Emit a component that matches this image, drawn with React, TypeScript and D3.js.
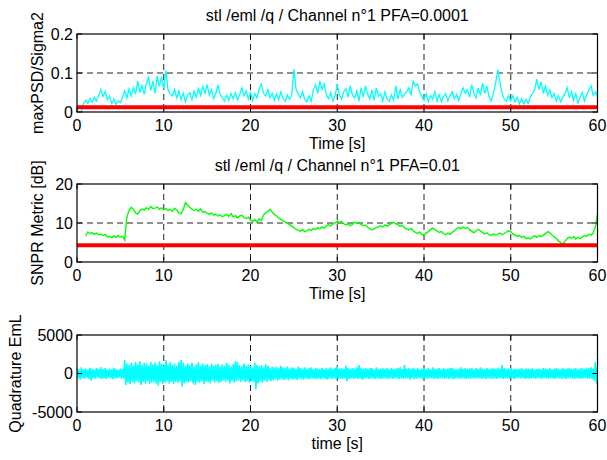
import React from 'react';
import * as d3 from 'd3';

// ---------- data ----------
const timeTicks = [0, 10, 20, 30, 40, 50, 60];
const psdTicks = [0, 0.1, 0.2];
const snprTicks = [0, 10, 20];
const quadTicks = [-5000, 0, 5000];

const titles = ['stl /eml /q / Channel n°1 PFA=0.0001', 'stl /eml /q / Channel n°1 PFA=0.01', ''];
const yLabels = ['maxPSD/Sigma2', 'SNPR Metric [dB]', 'Quadrature EmL'];
const xLabels = ['Time [s]', 'Time [s]', 'time [s]'];

const psdThreshold = 0.012;
const snprThreshold = 4.3;
const sampleStep = 0.25; // seconds between samples
const psdStart = 0;
const snprStart = 1;
const quadStart = 0;

const maxPSD = [
  0, 0, 0, 0.022,
  0.03, 0.022, 0.035, 0.025,
  0.038, 0.028, 0.042, 0.058,
  0.04, 0.052, 0.032, 0.041,
  0.022, 0.033, 0.019, 0.029,
  0.024, 0.038, 0.054, 0.036,
  0.059, 0.041, 0.063, 0.046,
  0.079, 0.05, 0.068, 0.045,
  0.074, 0.088, 0.055, 0.079,
  0.048, 0.092, 0.066, 0.09,
  0.06, 0.107, 0.056, 0.047,
  0.041, 0.058, 0.036, 0.054,
  0.032, 0.048, 0.026, 0.043,
  0.049, 0.031, 0.054, 0.038,
  0.06, 0.042, 0.065, 0.048,
  0.07, 0.043, 0.057, 0.034,
  0.047, 0.07, 0.045, 0.036,
  0.028, 0.043, 0.03, 0.047,
  0.034, 0.049, 0.031, 0.044,
  0.062, 0.042, 0.054, 0.033,
  0.05, 0.029, 0.047, 0.036,
  0.06, 0.072, 0.048, 0.041,
  0.057, 0.036, 0.048, 0.03,
  0.046, 0.032, 0.052, 0.035,
  0.028, 0.044, 0.033, 0.042,
  0.11, 0.058, 0.047, 0.036,
  0.052, 0.033, 0.026, 0.042,
  0.028, 0.057, 0.07, 0.048,
  0.08, 0.058, 0.072, 0.043,
  0.034, 0.05, 0.028, 0.042,
  0.07, 0.043, 0.033, 0.052,
  0.06, 0.038, 0.067, 0.043,
  0.036, 0.054, 0.028, 0.062,
  0.038, 0.067, 0.046, 0.033,
  0.057, 0.03, 0.062, 0.04,
  0.047, 0.028, 0.052, 0.033,
  0.028, 0.044, 0.03, 0.067,
  0.033, 0.057, 0.038, 0.046,
  0.052, 0.062, 0.043, 0.079,
  0.067, 0.072, 0.053, 0.038,
  0.03, 0.047, 0.026, 0.042,
  0.033, 0.052, 0.028, 0.044,
  0.026, 0.04, 0.047, 0.028,
  0.042, 0.052, 0.033, 0.045,
  0.03, 0.047, 0.062, 0.048,
  0.057, 0.038, 0.07, 0.048,
  0.036, 0.062, 0.043, 0.074,
  0.048, 0.067, 0.038, 0.028,
  0.047, 0.072, 0.108, 0.078,
  0.048, 0.033, 0.028, 0.042,
  0.028, 0.042, 0.026, 0.037,
  0.02, 0.034, 0.02, 0.032,
  0.022, 0.038, 0.047, 0.057,
  0.084, 0.058, 0.077, 0.048,
  0.067, 0.043, 0.057, 0.036,
  0.047, 0.028, 0.042, 0.026,
  0.038, 0.047, 0.062, 0.038,
  0.052, 0.03, 0.047, 0.023,
  0.037, 0.05, 0.028, 0.044,
  0.057, 0.067, 0.043, 0.052,
  0.04,
];

const snprMetric = [
  6.6, 7.7, 7.3, 7.5,
  7.1, 7.4, 7.0, 7.2,
  6.8, 7.1, 6.4, 6.6,
  6.2, 6.7, 6.3, 6.8,
  6.4, 6.6, 5.6, 11.5,
  13.2, 14.0, 13.5, 12.6,
  12.3, 13.2, 13.6, 13.3,
  13.9, 13.5, 14.2, 13.7,
  13.8, 14.1, 13.5, 13.9,
  13.4, 13.7, 13.2, 13.5,
  13.0, 13.8, 13.3, 12.6,
  12.4, 13.5, 15.2, 14.6,
  14.0, 13.6, 13.2, 13.5,
  13.0, 13.6, 12.8, 12.9,
  12.5, 12.2, 12.6, 12.0,
  12.3, 11.8, 12.1, 11.6,
  11.9, 12.2, 11.7, 12.4,
  11.6, 11.9, 11.3, 11.8,
  12.0, 11.4, 11.1, 11.5,
  10.8, 10.4, 10.9, 10.2,
  11.1, 10.6, 12.0, 12.6,
  13.0, 13.5, 12.8, 12.2,
  11.8, 11.3, 10.9, 10.6,
  10.3, 9.9, 9.6, 9.2,
  8.8, 8.4, 8.1, 7.9,
  8.3, 7.8, 8.0, 8.4,
  8.1, 8.6, 8.3, 8.8,
  8.5, 9.0, 8.7, 9.3,
  9.6, 9.2, 9.8, 10.0,
  10.5, 10.1, 10.4, 9.8,
  9.5, 9.8, 9.3, 9.6,
  10.2, 9.9, 10.1, 9.6,
  9.3, 9.5, 8.9, 8.6,
  8.2, 8.5, 8.8, 9.0,
  9.3, 9.0, 9.5, 9.2,
  9.5, 9.9, 10.2, 9.8,
  9.6, 9.2, 9.4, 8.8,
  8.5, 8.2, 8.6, 8.0,
  7.6, 7.3, 7.7, 7.0,
  6.9, 7.4, 7.8, 8.3,
  8.7, 8.3, 8.0, 7.6,
  7.8, 7.3, 7.0, 7.4,
  7.1, 7.6, 8.0, 8.5,
  8.9, 8.5, 9.0, 8.6,
  8.9, 8.3, 7.9, 7.5,
  8.0, 8.4, 8.0, 7.6,
  7.2, 7.5, 7.0, 6.8,
  7.2, 6.9, 7.1, 7.4,
  7.0, 7.3, 7.7, 8.0,
  7.8, 7.2, 6.9, 6.6,
  6.8, 6.3, 6.6, 6.0,
  6.2, 5.9, 6.4, 6.7,
  6.3, 6.8, 6.5, 6.9,
  7.2, 7.8, 7.5, 6.9,
  6.5, 6.0, 5.4, 5.0,
  4.6, 5.3, 6.0, 6.4,
  6.1, 6.5, 5.9, 6.3,
  6.0, 6.4, 6.8, 6.6,
  7.1, 6.9, 7.4, 9.0,
  12.3,
];

const quadUpper = [
  700, 550, 800, 600, 650, 500, 750, 600, 550, 700, 600, 850, 600, 700, 500, 650,
  550, 750, 600, 500, 650, 600, 1750, 1300, 1100, 1400, 1000, 1500, 1200, 1600, 1100, 1400,
  1300, 1000, 1500, 1200, 1400, 1100, 1600, 1300, 1000, 1700, 1200, 1500, 1100, 1300, 1000, 1500,
  1750, 1400, 1000, 1300, 1100, 1400, 900, 1200, 1500, 1000, 1300, 1100, 1200, 900, 1300, 1000,
  1100, 1300, 900, 1200, 1000, 1400, 1100, 900, 1200, 1600, 1500, 1100, 900, 1300, 1000, 1200,
  1000, 800, 1400, 1100, 900, 1100, 800, 1200, 1000, 700, 900, 800, 900, 700, 1000, 800,
  700, 900, 650, 800, 750, 600, 900, 700, 650, 800, 600, 700, 800, 550, 700, 650,
  600, 750, 550, 700, 650, 800, 600, 750, 900, 650, 700, 600, 1000, 700, 600, 750,
  650, 800, 1100, 700, 600, 750, 650, 700, 700, 550, 800, 600, 650, 700, 600, 750,
  550, 700, 600, 650, 700, 800, 600, 1100, 650, 700, 600, 750, 600, 700, 550, 650,
  700, 600, 750, 550, 800, 650, 600, 700, 550, 700, 600, 650, 700, 750, 600, 550,
  650, 800, 600, 700, 600, 650, 750, 550, 700, 600, 800, 650, 600, 700, 550, 650,
  700, 600, 750, 650, 1100, 700, 600, 650, 700, 550, 650, 600, 600, 700, 550, 650,
  650, 600, 700, 550, 600, 650, 550, 700, 650, 600, 700, 550, 600, 700, 650, 550,
  700, 600, 650, 750, 600, 650, 700, 550, 650, 700, 600, 750, 700, 800, 650, 1500,
  900,
];

const quadLower = [
  -650, -800, -600, -700, -550, -700, -900, -600, -700, -550, -650, -750, -600, -700, -550, -650,
  -750, -600, -650, -550, -700, -600, -1500, -1200, -1400, -1100, -1300, -1000, -1200, -1500, -1100, -1300,
  -1000, -1400, -1200, -1100, -1300, -1600, -1100, -1400, -1200, -1000, -1300, -1100, -1400, -1100, -1200, -1000,
  -1700, -1300, -1100, -1200, -1000, -1300, -1500, -1100, -1200, -1000, -1400, -1100, -1100, -1300, -900, -1200,
  -1000, -1200, -1100, -900, -1100, -900, -1300, -1000, -1200, -1000, -900, -1100, -900, -1100, -1000, -1200,
  -1000, -1100, -2050, -1300, -1000, -1200, -900, -1100, -800, -1000, -900, -750, -900, -800, -700, -850,
  -750, -900, -700, -800, -700, -850, -650, -750, -800, -650, -750, -700, -600, -750, -700, -650,
  -750, -600, -700, -800, -650, -700, -600, -750, -700, -650, -750, -600, -1000, -700, -650, -750,
  -600, -700, -650, -800, -700, -600, -750, -650, -650, -750, -600, -700, -700, -600, -650, -750,
  -600, -700, -650, -600, -750, -650, -700, -600, -650, -800, -600, -700, -700, -600, -650, -750,
  -600, -700, -650, -600, -700, -650, -750, -600, -650, -700, -600, -700, -600, -750, -650, -600,
  -700, -600, -650, -750, -650, -700, -600, -650, -600, -650, -700, -600, -700, -600, -650, -700,
  -650, -700, -600, -650, -700, -650, -600, -700, -600, -700, -650, -600, -650, -600, -700, -650,
  -700, -650, -600, -700, -600, -650, -700, -600, -650, -700, -600, -650, -700, -600, -650, -700,
  -600, -750, -650, -600, -650, -700, -600, -650, -700, -650, -600, -700, -650, -700, -900, -1300,
  -800,
];

// ---------- layout ----------
const W = 607;
const H = 460;
const LEFT = 77;
const RIGHT = 597.5;
const panels = [
  { top: 34, bottom: 112 },
  { top: 184, bottom: 262 },
  { top: 335, bottom: 412 },
];
const FONT = '"Liberation Sans", Arial, Helvetica, sans-serif';
const FS = 16;

type PanelProps = {
  top: number;
  bottom: number;
  yTicks: number[];
  title: string;
  yLabel: string;
  xLabel: string;
  yLabelX: number;
  fmt: (v: number) => string;
  children: (x: d3.ScaleLinear<number, number>, y: d3.ScaleLinear<number, number>) => React.ReactNode;
};

function Panel({ top, bottom, yTicks, title, yLabel, xLabel, yLabelX, fmt, children }: PanelProps) {
  const x = d3.scaleLinear().domain([0, 60]).range([LEFT, RIGHT]);
  const y = d3.scaleLinear().domain([yTicks[0], yTicks[yTicks.length - 1]]).range([bottom, top]);
  const tickLen = 5;
  const clipId = `clip-${top}`;
  return (
    <g>
      <defs>
        <clipPath id={clipId}>
          <rect x={LEFT} y={top} width={RIGHT - LEFT} height={bottom - top} />
        </clipPath>
      </defs>
      {timeTicks.slice(1, -1).map((t) => (
        <line key={'gx' + t} x1={x(t)} x2={x(t)} y1={top} y2={bottom} stroke="#222" strokeWidth={1} strokeDasharray="6,4" />
      ))}
      {yTicks.slice(1, -1).map((t) => (
        <line key={'gy' + t} x1={LEFT} x2={RIGHT} y1={y(t)} y2={y(t)} stroke="#222" strokeWidth={1} strokeDasharray="6,4" />
      ))}
      <g clipPath={`url(#${clipId})`}>{children(x, y)}</g>
      {timeTicks.map((t) => (
        <g key={'tx' + t}>
          <line x1={x(t)} x2={x(t)} y1={bottom} y2={bottom - tickLen} stroke="#000" />
          <line x1={x(t)} x2={x(t)} y1={top} y2={top + tickLen} stroke="#000" />
          <text x={x(t)} y={bottom + 19} textAnchor="middle" fontSize={FS} fontFamily={FONT}>
            {t}
          </text>
        </g>
      ))}
      {yTicks.map((t) => (
        <g key={'ty' + t}>
          <line x1={LEFT} x2={LEFT + tickLen} y1={y(t)} y2={y(t)} stroke="#000" />
          <line x1={RIGHT} x2={RIGHT - tickLen} y1={y(t)} y2={y(t)} stroke="#000" />
          <text x={LEFT - 4} y={y(t)} dy="0.36em" textAnchor="end" fontSize={FS} fontFamily={FONT}>
            {fmt(t)}
          </text>
        </g>
      ))}
      <rect x={LEFT} y={top} width={RIGHT - LEFT} height={bottom - top} fill="none" stroke="#000" strokeWidth={1.2} />
      {title && (
        <text x={(LEFT + RIGHT) / 2} y={top - 13} textAnchor="middle" fontSize={FS} fontFamily={FONT}>
          {title}
        </text>
      )}
      <text x={(LEFT + RIGHT) / 2} y={bottom + 37} textAnchor="middle" fontSize={FS} fontFamily={FONT}>
        {xLabel}
      </text>
      <text
        transform={`translate(${yLabelX},${(top + bottom) / 2}) rotate(-90)`}
        dy="0.35em"
        textAnchor="middle"
        fontSize={FS}
        fontFamily={FONT}
      >
        {yLabel}
      </text>
    </g>
  );
}

export default function App() {
  const lineGen = (x: d3.ScaleLinear<number, number>, y: d3.ScaleLinear<number, number>, start: number, vals: number[]) =>
    d3
      .line<number>()
      .x((_, i) => x(start + i * sampleStep))
      .y((v) => y(v))(vals) || '';

  const quadPath = (x: d3.ScaleLinear<number, number>, y: d3.ScaleLinear<number, number>) => {
    const pts: [number, number][] = [];
    quadUpper.forEach((u, i) => {
      const t = quadStart + i * sampleStep;
      pts.push([x(t), y(u)]);
      pts.push([x(Math.min(60, t + sampleStep / 2)), y(quadLower[i])]);
    });
    return d3.line()(pts) || '';
  };

  return (
    <svg width={W} height={H} style={{ position: 'absolute', left: 0, top: 0, background: '#fff' }}>
      <rect width={W} height={H} fill="#fff" />
      <Panel
        {...panels[0]}
        yTicks={psdTicks}
        title={titles[0]}
        yLabel={yLabels[0]}
        xLabel={xLabels[0]}
        yLabelX={37}
        fmt={(v) => String(v)}
      >
        {(x, y) => (
          <>
            <path d={lineGen(x, y, psdStart, maxPSD)} fill="none" stroke="#00ffff" strokeWidth={1.3} />
            <line x1={x(0)} x2={x(60)} y1={y(psdThreshold)} y2={y(psdThreshold)} stroke="#ff0000" strokeWidth={4} />
          </>
        )}
      </Panel>
      <Panel
        {...panels[1]}
        yTicks={snprTicks}
        title={titles[1]}
        yLabel={yLabels[1]}
        xLabel={xLabels[1]}
        yLabelX={37}
        fmt={(v) => String(v)}
      >
        {(x, y) => (
          <>
            <path d={lineGen(x, y, snprStart, snprMetric)} fill="none" stroke="#00ff00" strokeWidth={1.4} />
            <line x1={x(0)} x2={x(60)} y1={y(snprThreshold)} y2={y(snprThreshold)} stroke="#ff0000" strokeWidth={4} />
          </>
        )}
      </Panel>
      <Panel
        {...panels[2]}
        yTicks={quadTicks}
        title={titles[2]}
        yLabel={yLabels[2]}
        xLabel={xLabels[2]}
        yLabelX={15}
        fmt={(v) => String(v)}
      >
        {(x, y) => <path d={quadPath(x, y)} fill="none" stroke="#00ffff" strokeWidth={1.6} />}
      </Panel>
    </svg>
  );
}
